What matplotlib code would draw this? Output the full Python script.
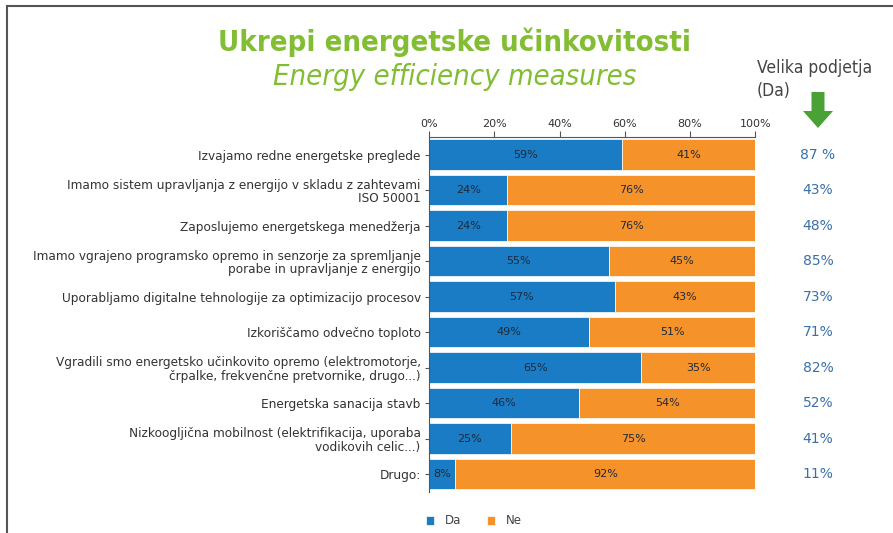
import matplotlib
matplotlib.use("Agg")
import matplotlib.pyplot as plt
from matplotlib.lines import Line2D
from matplotlib.patches import FancyArrow
import numpy as np

categories = [
    "Izvajamo redne energetske preglede",
    "Imamo sistem upravljanja z energijo v skladu z zahtevami\nISO 50001",
    "Zaposlujemo energetskega menedžerja",
    "Imamo vgrajeno programsko opremo in senzorje za spremljanje\nporabe in upravljanje z energijo",
    "Uporabljamo digitalne tehnologije za optimizacijo procesov",
    "Izkoriščamo odvečno toploto",
    "Vgradili smo energetsko učinkovito opremo (elektromotorje,\nčrpalke, frekvenčne pretvornike, drugo...)",
    "Energetska sanacija stavb",
    "Nizkoogljična mobilnost (elektrifikacija, uporaba\nvodikovih celic...)",
    "Drugo:",
]
da = [59, 24, 24, 55, 57, 49, 65, 46, 25, 8]
ne = [41, 76, 76, 45, 43, 51, 35, 54, 75, 92]
velika = ["87 %", "43%", "48%", "85%", "73%", "71%", "82%", "52%", "41%", "11%"]
xticks = [0, 20, 40, 60, 80, 100]

BLUE = "#1a7cc4"
ORANGE = "#f5922a"
GREEN = "#82bd33"

fig = plt.figure(figsize=(8.93, 5.33), dpi=100)
ax = fig.add_axes([0.4804, 0.077, 0.3655, 0.666])

y = np.arange(len(categories))
ax.barh(y, da, height=0.86, color=BLUE, edgecolor="white", linewidth=0.5, label="Da")
ax.barh(y, ne, left=da, height=0.86, color=ORANGE, edgecolor="white", linewidth=0.5, label="Ne")
for i in range(len(categories)):
    ax.text(da[i] / 2, y[i], f"{da[i]}%", ha="center", va="center", fontsize=8, color="#1e2a3a")
    ax.text(da[i] + ne[i] / 2, y[i], f"{ne[i]}%", ha="center", va="center", fontsize=8, color="#1e2a3a")

ax.set_xlim(0, 100)
ax.set_ylim(len(categories) - 0.5, -0.5)
ax.set_yticks(y)
ax.set_yticklabels(categories, fontsize=8.7, color="#333333", linespacing=1.05)
ax.set_xticks(xticks)
ax.set_xticklabels([f"{t}%" for t in xticks], fontsize=8, color="#333333")
ax.xaxis.tick_top()
ax.tick_params(axis="x", length=4, color="#555555", pad=2)
ax.tick_params(axis="y", length=3, color="#555555", pad=3)
for s in ["right", "bottom"]:
    ax.spines[s].set_visible(False)
for s in ["left", "top"]:
    ax.spines[s].set_color("#555555")
    ax.spines[s].set_linewidth(0.8)

for i, v in enumerate(velika):
    yy = ax.transData.transform((0, y[i]))[1]
    fy = fig.transFigure.inverted().transform((0, yy))[1]
    fig.text(818 / 893, fy, v, ha="center", va="center", fontsize=10, color="#3a6fa8")

leg = fig.legend(loc="center", bbox_to_anchor=(474 / 893, 1 - 521 / 533), ncol=2, frameon=False,
                 fontsize=8.5, handlelength=0.7, handleheight=0.7, columnspacing=2.2, handletextpad=0.9)
for t in leg.get_texts():
    t.set_color("#444444")

fig.text(455 / 893, 1 - 42 / 533, "Ukrepi energetske učinkovitosti", ha="center", va="center",
         fontsize=21, fontweight="bold", color=GREEN, family="DejaVu Sans", fontstretch="condensed")
fig.text(455 / 893, 1 - 77 / 533, "Energy efficiency measures", ha="center", va="center",
         fontsize=21, style="italic", color=GREEN, family="DejaVu Sans", fontstretch="condensed")

fig.text(757 / 893, 1 - 68 / 533, "Velika podjetja", ha="left", va="center", fontsize=12.5,
         color="#444444", family="DejaVu Sans", fontstretch="condensed")
fig.text(757 / 893, 1 - 91 / 533, "(Da)", ha="left", va="center", fontsize=12.5,
         color="#444444", family="DejaVu Sans", fontstretch="condensed")

arrow = FancyArrow(818 / 893, 1 - 92 / 533, 0, -(36 / 533), width=13 / 893, head_width=30 / 893,
                   head_length=17 / 533, length_includes_head=True, transform=fig.transFigure,
                   color="#4aa236", ec="none")
fig.add_artist(arrow)

fig.add_artist(Line2D([7 / 893, 7 / 893], [0, 1 - 6 / 533], transform=fig.transFigure, color="#555555", lw=1.5))
fig.add_artist(Line2D([7 / 893, 1], [1 - 6 / 533, 1 - 6 / 533], transform=fig.transFigure, color="#555555", lw=1.5))

fig.savefig("out.png", dpi=100)
